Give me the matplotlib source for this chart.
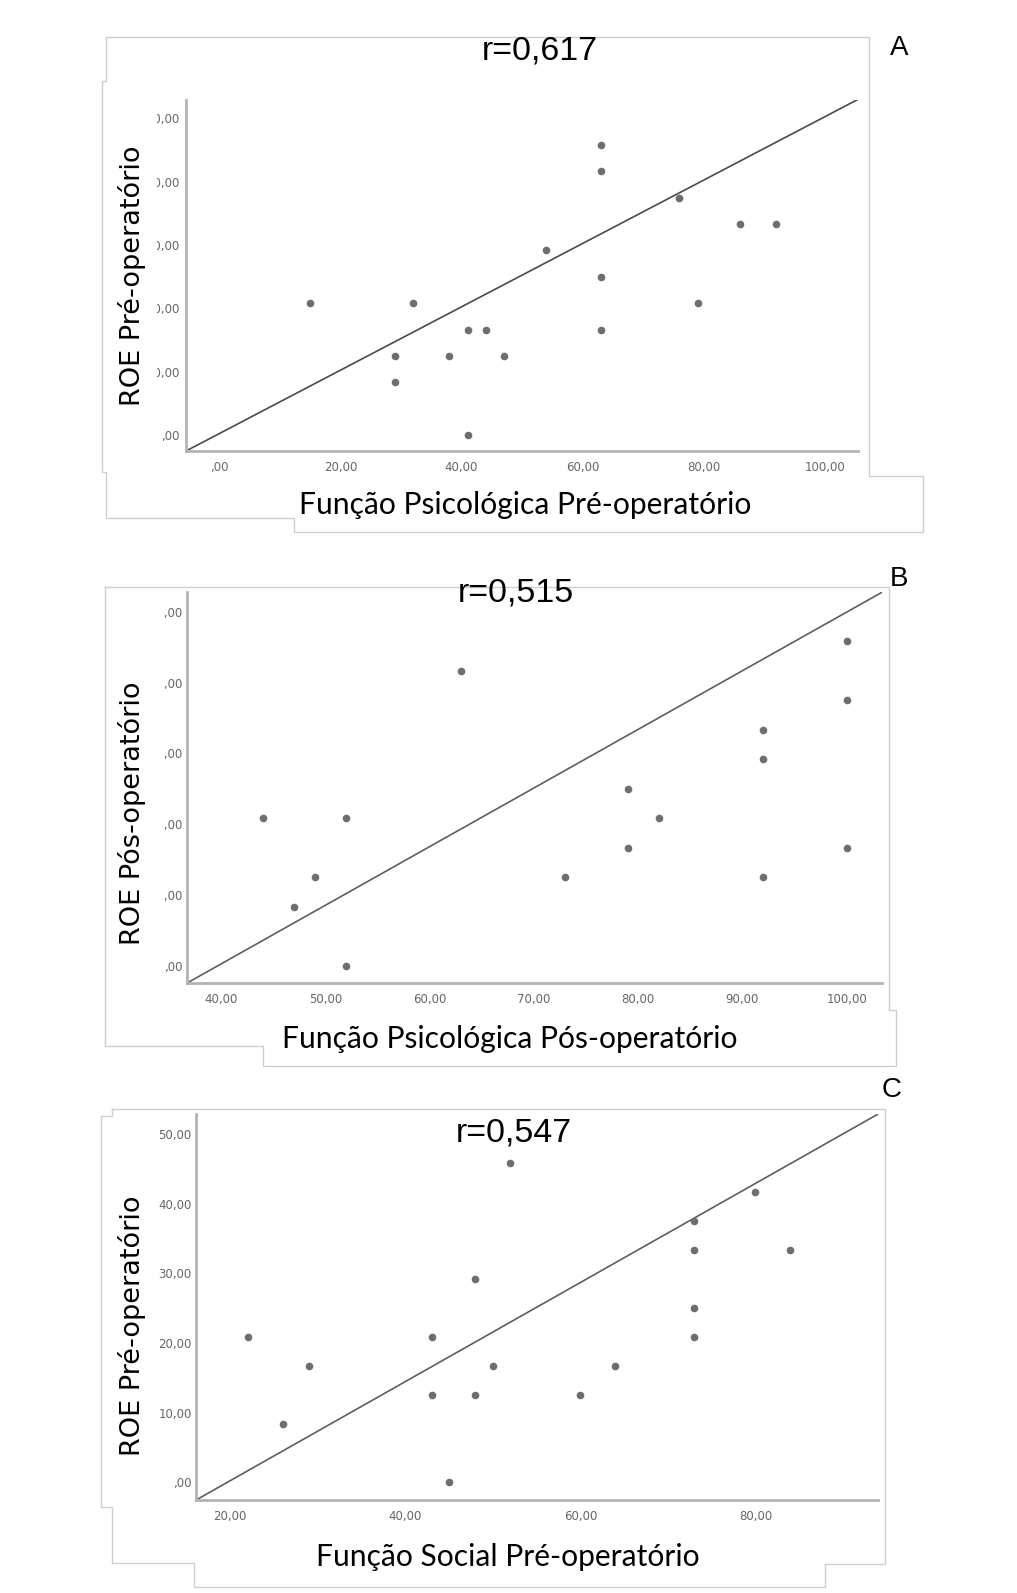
import numpy as np
import matplotlib.pyplot as plt
from matplotlib.lines import Line2D
from matplotlib.transforms import Bbox, TransformedBbox

# -----------------------------
# Data
# -----------------------------
a_x = [15, 32, 29, 29, 38, 41, 44, 47, 41, 54, 63, 63, 63, 63, 76, 86, 92, 79]
a_y = [20.83, 20.83, 12.5, 8.33, 12.5, 16.67, 16.67, 12.5, 0, 29.17,
       45.83, 41.67, 25, 16.67, 37.5, 33.33, 33.33, 20.83]

b_x = [44, 52, 49, 47, 52, 63, 73, 79, 79, 82, 92, 92, 92, 100, 100, 100]
b_y = [20.83, 20.83, 12.5, 8.33, 0, 41.67, 12.5, 25, 16.67, 20.83,
       33.33, 29.17, 12.5, 45.83, 37.5, 16.67]

c_x = [22, 26, 29, 43, 43, 45, 48, 48, 50, 52, 60, 64, 73, 73, 73, 73, 80, 84]
c_y = [20.83, 8.33, 16.67, 20.83, 12.5, 0, 29.17, 12.5, 16.67, 45.83,
       12.5, 16.67, 37.5, 33.33, 25, 20.83, 41.67, 33.33]

# fit lines (slope, intercept)
a_fit = (0.50, 0.25)
b_fit = (0.828, -32.85)
c_fit = (0.712, -14.04)

r_labels = ["r=0,617", "r=0,515", "r=0,547"]
panel_letters = ["A", "B", "C"]
y_titles = ["ROE Pré-operatório", "ROE Pós-operatório", "ROE Pré-operatório"]
x_titles = ["Função Psicológica Pré-operatório",
            "Função Psicológica Pós-operatório",
            "Função Social Pré-operatório"]

y_ticks = [0, 10, 20, 30, 40, 50]
a_xticks = [0, 20, 40, 60, 80, 100]
b_xticks = [40, 50, 60, 70, 80, 90, 100]
c_xticks = [20, 40, 60, 80]

# -----------------------------
# Layout (pixels)
# -----------------------------
W, H = 1017, 1593
fig = plt.figure(figsize=(W / 100, H / 100), dpi=100)

AX_COLOR = "#b3b3b3"
DOT_COLOR = "#6e6e6e"
FRAME_COLOR = "#cfcfcf"


def fx(x):
    return x / W


def fy(y):
    return 1 - y / H


def add_px_axes(x0, y0, x1, y1):
    return fig.add_axes([fx(x0), fy(y1), (x1 - x0) / W, (y1 - y0) / H])


def spss(v):
    s = f"{v:.2f}".replace(".", ",")
    return s[1:] if s.startswith("0") else s


def frame(points):
    xs = [fx(p[0]) for p in points]
    ys = [fy(p[1]) for p in points]
    fig.add_artist(Line2D(xs, ys, transform=fig.transFigure,
                          color=FRAME_COLOR, lw=1.0))


def scatter_panel(box, xs, ys, fit, xlim, ylim, xticks, clip_x=None,
                  line_color="#555555", ypad=3):
    ax = add_px_axes(*box)
    ax.set_xlim(*xlim)
    ax.set_ylim(*ylim)
    for s in ["top", "right"]:
        ax.spines[s].set_visible(False)
    for s in ["left", "bottom"]:
        ax.spines[s].set_color(AX_COLOR)
        ax.spines[s].set_linewidth(2.0)
    ax.set_xticks(xticks)
    ax.set_xticklabels([spss(v) for v in xticks])
    ax.set_yticks(y_ticks)
    ax.set_yticklabels([spss(v) for v in y_ticks])
    ax.tick_params(length=0, labelsize=8.5, labelcolor="#666666")
    ax.tick_params(axis="x", pad=7)
    ax.tick_params(axis="y", pad=ypad)
    for lbl in ax.get_xticklabels() + ax.get_yticklabels():
        lbl.set_fontfamily("DejaVu Sans")

    xl = np.array(xlim)
    ax.plot(xl, fit[1] + fit[0] * xl, color=line_color, lw=1.2, zorder=2)
    ax.plot(xs, ys, "o", ms=5.5, color=DOT_COLOR, mec="none", zorder=3)

    if clip_x is not None:
        clip = TransformedBbox(Bbox([[fx(clip_x), 0], [1, 1]]), fig.transFigure)
        for lbl in ax.get_yticklabels():
            lbl.set_clip_box(clip)
            lbl.set_clip_on(True)
    return ax


# Panel A
scatter_panel((186, 100, 858, 451), a_x, a_y, a_fit, (-5.5, 105.5), (-2.5, 52.9),
              a_xticks, clip_x=157, line_color="#4a4a4a", ypad=4.5)
frame([(106, 37), (869, 37), (869, 476), (923, 476), (923, 532), (294, 532),
       (294, 518), (106, 518), (106, 472), (102, 472), (102, 81), (106, 81), (106, 37)])

# Panel B
scatter_panel((187, 592, 882, 983), b_x, b_y, b_fit, (36.7, 103.4), (-2.45, 52.8),
              b_xticks, clip_x=165, line_color="#5e5e5e")
frame([(105, 587), (889, 587), (889, 1010), (896, 1010), (896, 1066), (263, 1066),
       (263, 1046), (105, 1046), (105, 587)])

# Panel C
scatter_panel((196, 1114, 878, 1500), c_x, c_y, c_fit, (16.1, 94.0), (-2.57, 52.9),
              c_xticks, line_color="#5e5e5e")
frame([(112, 1109), (885, 1109), (885, 1564), (825, 1564), (825, 1587), (194, 1587),
       (194, 1563), (112, 1563), (112, 1507), (101, 1507), (101, 1116), (112, 1116),
       (112, 1109)])

# -----------------------------
# Texts
# -----------------------------
r_pos = [(540, 51), (516, 593), (514, 1133)]
letter_pos = [(899, 48), (899, 579), (892, 1090)]
ylab_pos = [(132, 276), (132, 813), (132, 1326)]
xlab_pos = [(525, 505), (510, 1039), (508, 1557)]

for i in range(3):
    fig.text(fx(r_pos[i][0]), fy(r_pos[i][1]), r_labels[i], ha="center", va="center",
             fontsize=24.5, family="Liberation Sans", color="black")
    fig.text(fx(letter_pos[i][0]), fy(letter_pos[i][1]), panel_letters[i],
             ha="center", va="center", fontsize=20, family="Liberation Sans")
    fig.text(fx(ylab_pos[i][0]), fy(ylab_pos[i][1]), y_titles[i], rotation=90,
             ha="center", va="center", fontsize=19.5, family="DejaVu Sans")
    fig.text(fx(xlab_pos[i][0]), fy(xlab_pos[i][1]), x_titles[i], ha="center",
             va="center", fontsize=21.6, family="Lato")

fig.savefig("out.png", dpi=100, facecolor="white")
